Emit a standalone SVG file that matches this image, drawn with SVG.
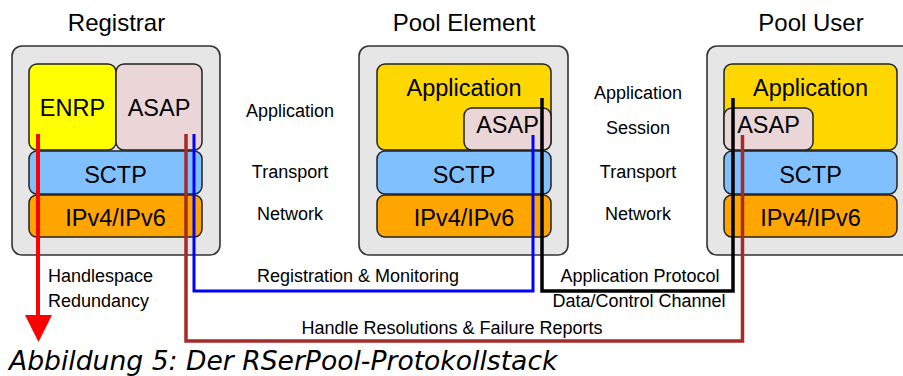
<svg xmlns="http://www.w3.org/2000/svg" width="903" height="376" viewBox="0 0 903 376">
  <defs>
    <style>
      text { font-family: "Liberation Sans", Arial, sans-serif; fill: #000; }
      .title { font-size: 24px; text-anchor: middle; }
      .layer { font-size: 23.5px; text-anchor: middle; }
      .lbl { font-size: 18px; text-anchor: middle; }
      .lbl-l { font-size: 18px; }
      .caption { font-family: "DejaVu Sans", sans-serif; font-style: italic; font-size: 26.6px; }
      .host { fill: #e6e6e6; stroke: #333; stroke-width: 1.6; }
      .box { stroke: #222; stroke-width: 1.5; }
      .enrp { fill: #ffff00; }
      .app { fill: #ffd700; }
      .asap { fill: #ead6d6; }
      .sctp { fill: #80c0ff; }
      .ip { fill: #ffa500; }
      .conn { fill: none; stroke-linejoin: miter; }
    </style>
  </defs>
  <rect width="903" height="376" fill="#fff"/>

  <!-- Registrar -->
  <g id="registrar">
    <text class="title" x="116.5" y="31">Registrar</text>
    <rect class="host" x="12" y="46" width="208" height="209" rx="10"/>
    <rect class="box enrp" x="29" y="64" width="87" height="86" rx="8"/>
    <rect class="box asap" x="116" y="64" width="86" height="86" rx="8"/>
    <rect class="box sctp" x="29" y="151" width="173" height="43" rx="8"/>
    <rect class="box ip" x="29" y="195" width="173" height="42" rx="8"/>
    <text class="layer" x="72.5" y="116">ENRP</text>
    <text class="layer" x="159" y="116">ASAP</text>
    <text class="layer" x="115.5" y="183">SCTP</text>
    <text class="layer" x="115.5" y="226">IPv4/IPv6</text>
  </g>

  <!-- Pool Element -->
  <g id="pool-element">
    <text class="title" x="464" y="31">Pool Element</text>
    <rect class="host" x="359" y="46" width="209" height="209" rx="10"/>
    <rect class="box app" x="377" y="64" width="174" height="86" rx="8"/>
    <rect class="box asap" x="464" y="108" width="87" height="42" rx="8"/>
    <rect class="box sctp" x="377" y="151" width="174" height="43" rx="8"/>
    <rect class="box ip" x="377" y="195" width="174" height="42" rx="8"/>
    <text class="layer" x="464" y="96">Application</text>
    <text class="layer" x="507.5" y="133">ASAP</text>
    <text class="layer" x="464" y="183">SCTP</text>
    <text class="layer" x="464" y="226">IPv4/IPv6</text>
  </g>

  <!-- Pool User -->
  <g id="pool-user">
    <text class="title" x="811" y="31">Pool User</text>
    <rect class="host" x="707" y="46" width="208" height="209" rx="10"/>
    <rect class="box app" x="724" y="64" width="173" height="86" rx="8"/>
    <rect class="box asap" x="724" y="108" width="89" height="42" rx="8"/>
    <rect class="box sctp" x="724" y="151" width="173" height="43" rx="8"/>
    <rect class="box ip" x="724" y="195" width="173" height="42" rx="8"/>
    <text class="layer" x="810.5" y="96">Application</text>
    <text class="layer" x="768.5" y="133">ASAP</text>
    <text class="layer" x="810.5" y="183">SCTP</text>
    <text class="layer" x="810.5" y="226">IPv4/IPv6</text>
  </g>

  <!-- Layer names between the hosts -->
  <g id="layers-left">
    <text class="lbl" x="290" y="117">Application</text>
    <text class="lbl" x="290" y="178">Transport</text>
    <text class="lbl" x="290" y="220">Network</text>
  </g>
  <g id="layers-right">
    <text class="lbl" x="638" y="99">Application</text>
    <text class="lbl" x="638" y="134">Session</text>
    <text class="lbl" x="638" y="178">Transport</text>
    <text class="lbl" x="638" y="220">Network</text>
  </g>

  <!-- Connectors -->
  <g id="connectors">
    <path class="conn" d="M38 134 V318" stroke="#ff0000" stroke-width="4"/>
    <polygon points="25,315 52,315 38.5,342" fill="#ff0000"/>
    <path class="conn" d="M194 134 V291 H533 V135" stroke="#0000ff" stroke-width="3"/>
    <path class="conn" d="M542 98 V291 H733 V98" stroke="#000" stroke-width="3.5"/>
    <path class="conn" d="M186 134 V341 H742.5 V135" stroke="#a52a2a" stroke-width="3.5"/>
  </g>

  <!-- Connector labels -->
  <g id="connector-labels">
    <text class="lbl-l" x="48" y="282">Handlespace</text>
    <text class="lbl-l" x="48" y="307">Redundancy</text>
    <text class="lbl" x="358" y="282">Registration &amp; Monitoring</text>
    <text class="lbl" x="640" y="282">Application Protocol</text>
    <text class="lbl" x="639" y="307">Data/Control Channel</text>
    <text class="lbl" x="452" y="334">Handle Resolutions &amp; Failure Reports</text>
  </g>

  <text class="caption" x="9" y="370">Abbildung 5: Der RSerPool-Protokollstack</text>
</svg>
